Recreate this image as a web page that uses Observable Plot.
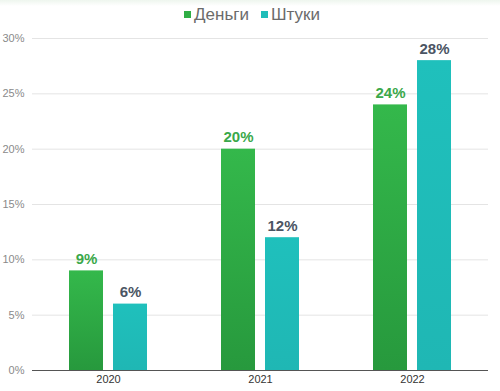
<!DOCTYPE html>
<html><head><meta charset="utf-8">
<script src="https://cdn.jsdelivr.net/npm/d3@7"></script>
<script src="https://cdn.jsdelivr.net/npm/@observablehq/plot@0.6"></script>
<style>
body{margin:0;background:#fff;font-family:"Liberation Sans",Arial,sans-serif;}
#wrap{width:500px;height:391px;position:relative;background:linear-gradient(#eef6ee 0px,#fff 6px);}
#legend{height:28px;display:flex;justify-content:center;align-items:center;gap:12px;font-size:17px;color:#6b6b6b;padding-left:4px;box-sizing:border-box;padding-top:2px;}
#legend span.sw{display:inline-block;width:7px;height:7px;margin-right:3px;vertical-align:2px;}
</style></head>
<body><div id="wrap"><div id="legend"></div><div id="chart"></div></div>
<script>
const years = ["2020", "2021", "2022"];
const series = ["Деньги", "Штуки"];
const money = [9, 20, 24];
const pieces = [6, 12, 28];
const yTicks = [0, 5, 10, 15, 20, 25, 30];

const colors = {"Деньги": "#2fae45", "Штуки": "#20bdb9"};
const labelColors = {"Деньги": "#3aa84a", "Штуки": "#4b5563"};
const gradIds = {"Деньги": "gGreen", "Штуки": "gTeal"};

const data = [];
years.forEach((y, i) => {
  data.push({year: y, series: series[0], value: money[i]});
  data.push({year: y, series: series[1], value: pieces[i]});
});

const legend = document.getElementById("legend");
series.forEach(s => {
  const d = document.createElement("div");
  d.innerHTML = `<span class="sw" style="background:${colors[s]}"></span>${s}`;
  legend.appendChild(d);
});

const plot = Plot.plot({
  width: 500,
  height: 363,
  marginLeft: 32,
  marginRight: 12,
  marginTop: 10,
  marginBottom: 21,
  style: {fontFamily: "Liberation Sans, Arial, sans-serif", fontSize: "11px", background: "transparent"},
  fx: {domain: years, padding: 0, label: null, axis: "bottom", tickSize: 0, tickPadding: 5},
  x: {domain: series, paddingInner: 0.227, paddingOuter: 0.84, axis: null},
  y: {domain: [0, 30], ticks: yTicks, tickFormat: d => d + "%", label: null, tickSize: 0, tickPadding: 8},
  marks: [
    Plot.gridY(yTicks.filter(t => t > 0), {stroke: "#e4e4e4", strokeOpacity: 1, strokeWidth: 1}),
    Plot.barY(data, {fx: "year", x: "series", y: "value", fill: d => `url(#${gradIds[d.series]})`}),
    Plot.text(data, {fx: "year", x: "series", y: "value", text: d => d.value + "%", fill: d => labelColors[d.series], fontSize: 15, fontWeight: "bold", lineAnchor: "bottom", dy: -7}),
    Plot.ruleY([0], {stroke: "#555", strokeWidth: 1.2})
  ]
});

const ns = "http://www.w3.org/2000/svg";
const defs = document.createElementNS(ns, "defs");
defs.innerHTML = `
<linearGradient id="gGreen" x1="0" y1="0" x2="0" y2="1"><stop offset="0" stop-color="#34b84b"/><stop offset="1" stop-color="#27993d"/></linearGradient>
<linearGradient id="gTeal" x1="0" y1="0" x2="0" y2="1"><stop offset="0" stop-color="#1fc0bc"/><stop offset="1" stop-color="#1fb7b4"/></linearGradient>`;
plot.insertBefore(defs, plot.firstChild);

plot.querySelectorAll("[aria-label='fx-axis tick label']").forEach(e => { e.setAttribute("fill", "#333"); });
plot.querySelectorAll("[aria-label='y-axis tick label']").forEach(e => { e.setAttribute("fill", "#8a8a8a"); });
document.getElementById("chart").appendChild(plot);
</script>
</body></html>
